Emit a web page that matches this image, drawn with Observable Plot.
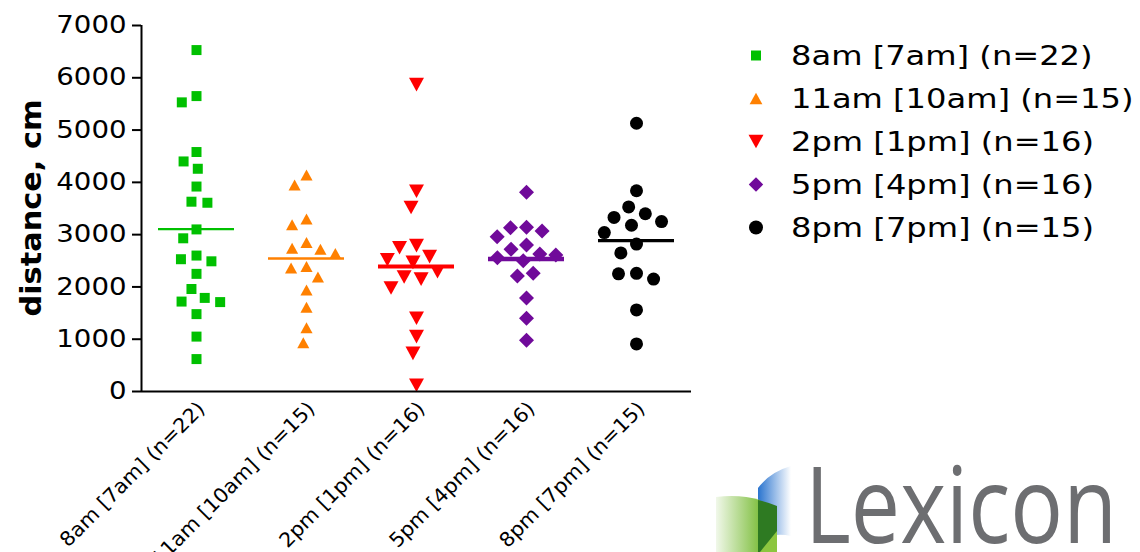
<!DOCTYPE html>
<html>
<head>
<meta charset="utf-8">
<script src="https://cdn.jsdelivr.net/npm/d3@7"></script>
<script src="https://cdn.jsdelivr.net/npm/@observablehq/plot@0.6"></script>
<style>
  html, body { margin: 0; padding: 0; background: #fff; }
  #wrap { position: relative; width: 1140px; height: 552px; overflow: hidden; font-family: "DejaVu Sans", Verdana, sans-serif; }
  #chart { position: absolute; left: 0; top: 0; width: 700px; }
  #legend { position: absolute; left: 735px; top: 34px; }
  #legend .row { display: flex; align-items: center; height: 43px; }
  #legend .lab { display: inline-block; font-size: 27px; line-height: 1; margin-left: 14px; transform: scaleX(1.19); transform-origin: left center; white-space: nowrap; color: #000; }
  #overlay { position: absolute; left: 0; top: 0; pointer-events: none; }
</style>
</head>
<body>
<div id="wrap">
  <div id="chart"></div>
  <div id="legend"></div>
  <svg id="overlay" width="1140" height="552"></svg>
</div>
<script>
// ---------------- data ----------------
const groups = ["8am [7am] (n=22)", "11am [10am] (n=15)", "2pm [1pm] (n=16)", "5pm [4pm] (n=16)", "8pm [7pm] (n=15)"];
const values8am  = [6530, 5650, 5530, 4580, 4400, 4260, 3920, 3630, 3610, 3100, 2930, 2600, 2530, 2490, 2250, 1960, 1790, 1720, 1710, 1480, 1050, 620];
const values11am = [4140, 3950, 3300, 3190, 2850, 2740, 2720, 2640, 2390, 2360, 2190, 1940, 1610, 1220, 930];
const values2pm  = [5870, 3830, 3520, 2790, 2750, 2580, 2520, 2470, 2290, 2190, 2150, 1980, 1400, 1050, 730, 120];
const values5pm  = [3810, 3140, 3130, 3070, 2960, 2800, 2720, 2630, 2610, 2560, 2500, 2260, 2210, 1790, 1400, 980];
const values8pm  = [5130, 3840, 3530, 3400, 3330, 3250, 3180, 3040, 2820, 2650, 2260, 2250, 2150, 1560, 910];
const seriesValues = [values8am, values11am, values2pm, values5pm, values8pm];
const yTicks = [0, 1000, 2000, 3000, 4000, 5000, 6000, 7000];
const yLabel = "distance, cm";

// ---------------- styles ----------------
const triUp = { draw(ctx, size) { const r = Math.sqrt(size / Math.PI); ctx.moveTo(0, -r); ctx.lineTo(1.1 * r, r); ctx.lineTo(-1.1 * r, r); ctx.closePath(); } };
const triDown = { draw(ctx, size) { const r = Math.sqrt(size / Math.PI); ctx.moveTo(0, r); ctx.lineTo(1.1 * r, -r); ctx.lineTo(-1.1 * r, -r); ctx.closePath(); } };
const styles = [
  { color: "#00c000", symbol: d3.symbolSquare,   r: 5.64, pad: 4.7, lw: 2.3, lr: 5.64 },
  { color: "#ff8000", symbol: triUp,             r: 5.5,  pad: 4.5, lw: 2.5, lr: 5.8 },
  { color: "#ff0000", symbol: triDown,           r: 6.8,  pad: 3.5, lw: 4,   lr: 6.8 },
  { color: "#700a9a", symbol: d3.symbolDiamond2, r: 6.76, pad: 2.5, lw: 4.5, lr: 6.5 },
  { color: "#000000", symbol: d3.symbolCircle,   r: 6.5,  pad: 5,   lw: 3.3, lr: 7 }
];

const table = groups.flatMap((g, i) => seriesValues[i].map(v => ({ group: g, value: v })));
const axisAnchor = [{ group: groups[0], x: 0 }];

const dotMarks = groups.map((g, i) => Plot.dot(table.filter(d => d.group === g), Plot.dodgeX({
  anchor: "middle", padding: styles[i].pad,
  fx: "group", y: "value", r: styles[i].r, symbol: styles[i].symbol, fill: styles[i].color, stroke: "none"
})));
const meanMarks = groups.map((g, i) => Plot.tickY(table.filter(d => d.group === g), Plot.groupZ({ y: "mean" }, {
  fx: "group", y: "value", stroke: styles[i].color, strokeWidth: styles[i].lw, insetLeft: 17, insetRight: 17
})));

const plot = Plot.plot({
  width: 700, height: 552,
  marginLeft: 140, marginRight: 9, marginTop: 25, marginBottom: 161,
  style: { fontFamily: '"DejaVu Sans", Verdana, sans-serif', color: "#000", background: "transparent", overflow: "visible" },
  fx: { domain: groups, padding: 0 },
  x: { domain: [0, 1], axis: null },
  y: { domain: [0, 7000] },
  marks: [
    ...dotMarks,
    ...meanMarks,
    Plot.ruleY([0], { stroke: "#000", strokeWidth: 2 }),
    Plot.ruleX(axisAnchor, { fx: "group", x: "x", stroke: "#000", strokeWidth: 2 }),
    Plot.axisY({ ticks: yTicks, tickFormat: d3.format("d"), tickSize: 9, tickPadding: 6, fontSize: 24, label: null, strokeWidth: 2 }),
    Plot.axisFx({ anchor: "bottom", tickRotate: -45, tickSize: 0, tickPadding: 14, dx: 5, fontSize: 20, label: null })
  ]
});
document.getElementById("chart").appendChild(plot);

// widen tick label glyphs to match the reference typeface
d3.select(plot).selectAll('g[aria-label="y-axis tick label"] text').each(function () {
  this.setAttribute("transform", (this.getAttribute("transform") || "") + " scale(1.15,1)");
});
d3.select(plot).selectAll('g[aria-label="fx-axis tick label"] text').each(function () {
  this.setAttribute("transform", (this.getAttribute("transform") || "") + " scale(1.04,1)");
});

// ---------------- legend ----------------
const legend = d3.select("#legend");
groups.forEach((g, i) => {
  const row = legend.append("div").attr("class", "row");
  const s = row.append("svg").attr("width", 42).attr("height", 43);
  s.append("path")
    .attr("transform", "translate(21,21.5)")
    .attr("d", d3.symbol(styles[i].symbol, Math.PI * styles[i].lr * styles[i].lr)())
    .attr("fill", styles[i].color);
  row.append("span").attr("class", "lab").text(g);
});

// ---------------- y label & logo ----------------
const ov = d3.select("#overlay");
ov.append("text")
  .attr("transform", "translate(41,208) rotate(-90)")
  .attr("text-anchor", "middle")
  .attr("font-family", '"DejaVu Sans", Verdana, sans-serif')
  .attr("font-weight", "bold")
  .attr("font-size", 28)
  .attr("textLength", 217)
  .attr("lengthAdjust", "spacingAndGlyphs")
  .text(yLabel);

const defs = ov.append("defs");
const g1 = defs.append("linearGradient").attr("id", "gGreen").attr("x1", "0").attr("x2", "1").attr("y1", "0").attr("y2", "0");
g1.append("stop").attr("offset", "0").attr("stop-color", "#f1f8ea");
g1.append("stop").attr("offset", "1").attr("stop-color", "#7fbf3f");
const g2 = defs.append("linearGradient").attr("id", "gBlue").attr("x1", "0").attr("x2", "1").attr("y1", "0").attr("y2", "0");
g2.append("stop").attr("offset", "0").attr("stop-color", "#2a74cf");
g2.append("stop").attr("offset", "1").attr("stop-color", "#ffffff");
const logo = ov.append("g");
logo.append("path").attr("d", "M758,488 Q770,472 791,466 L791,536 Q775,532 758,540 Z").attr("fill", "url(#gBlue)");
logo.append("path").attr("d", "M716,497 Q740,494 760,500 L760,552 L716,552 Z").attr("fill", "url(#gGreen)");
logo.append("path").attr("d", "M758,500 Q768,502 777,506 L777,552 L758,552 Z").attr("fill", "#2e7a22");
logo.append("path").attr("d", "M777,531 L777,552 L760,552 Z").attr("fill", "#8cc63f");
logo.append("text")
  .attr("x", 805).attr("y", 543)
  .attr("font-family", '"Open Sans", sans-serif')
  .attr("font-size", 106)
  .attr("fill", "#6d6e71")
  .attr("textLength", 312)
  .attr("lengthAdjust", "spacingAndGlyphs")
  .text("Lexicon");
</script>
</body>
</html>
